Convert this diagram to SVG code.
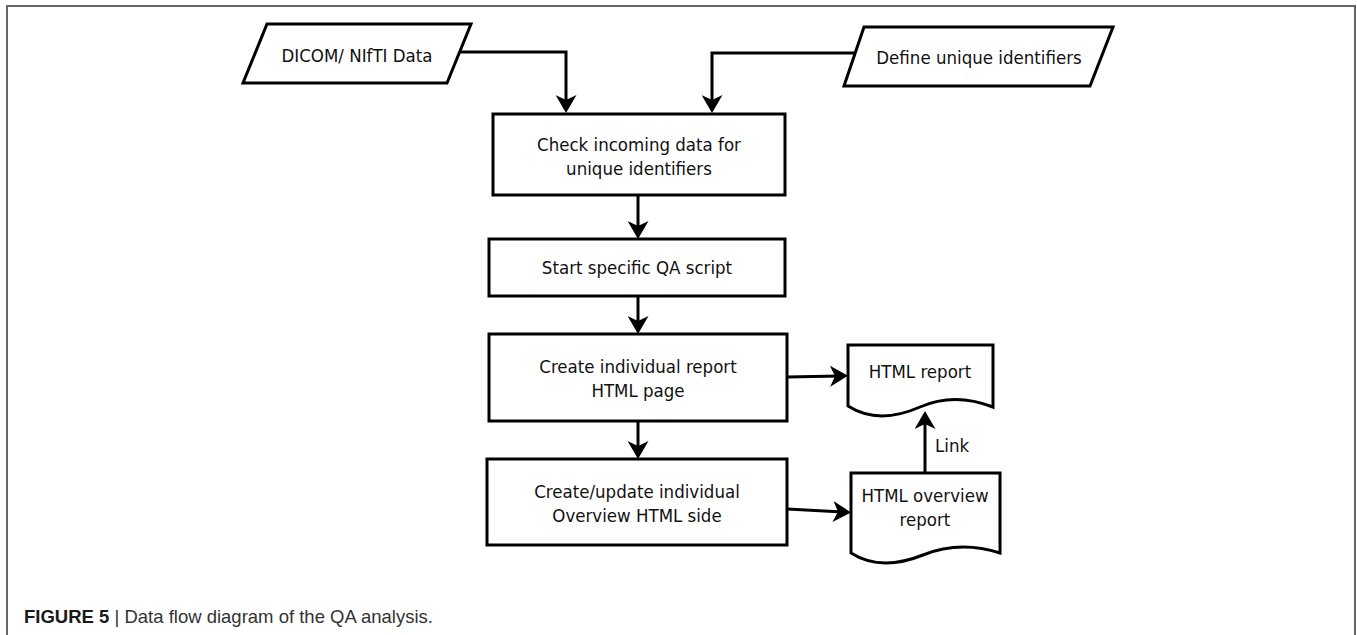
<svg xmlns="http://www.w3.org/2000/svg" width="1357" height="635" viewBox="0 0 1357 635">
<style>
.shape{fill:#fff;stroke:#000;stroke-width:3;stroke-linejoin:miter}
.lbl{font-family:"DejaVu Sans Condensed","DejaVu Sans",sans-serif;font-stretch:condensed;font-size:18.5px;fill:#111;text-anchor:middle}
.conn{fill:none;stroke:#000;stroke-width:3}
.cap{font-family:"Liberation Sans",Arial,sans-serif;font-size:18.5px;fill:#333}
</style>
<defs>
<marker id="arr" viewBox="0 0 18 21" markerWidth="18" markerHeight="21" refX="10" refY="10.5" orient="auto" markerUnits="userSpaceOnUse">
<path d="M0,0 L18,10.5 L0,21 L5,10.5 Z" fill="#000"/>
</marker>
</defs>
<rect width="1357" height="635" fill="#fff"/>
<path d="M7,640 V6 H1355 V640" fill="none" stroke="#666" stroke-width="2"/>

<g id="connectors">
<path class="conn" d="M459,52 H566 V105" marker-end="url(#arr)"/>
<path class="conn" d="M854,53 H712 V105" marker-end="url(#arr)"/>
<path class="conn" d="M638,195 V231" marker-end="url(#arr)"/>
<path class="conn" d="M638,296 V326" marker-end="url(#arr)"/>
<path class="conn" d="M638,421 V451" marker-end="url(#arr)"/>
<path class="conn" d="M787,377 L840,376" marker-end="url(#arr)"/>
<path class="conn" d="M787,509 L843,512" marker-end="url(#arr)"/>
<path class="conn" d="M925,473 V419" marker-end="url(#arr)"/>
<text class="lbl" x="935" y="452" style="text-anchor:start">Link</text>
</g>

<g id="dicom">
<polygon class="shape" points="267,24 471,24 447,83 243,83"/>
<text class="lbl" x="357" y="62">DICOM/ NIfTI Data</text>
</g>
<g id="define">
<polygon class="shape" points="864,27 1113,27 1090,86 844,86"/>
<text class="lbl" x="979" y="64">Define unique identifiers</text>
</g>
<g id="check">
<rect class="shape" x="493" y="114" width="292" height="81"/>
<text class="lbl" x="639" y="151">Check incoming data for</text>
<text class="lbl" x="639" y="175">unique identifiers</text>
</g>
<g id="start">
<rect class="shape" x="489" y="239" width="296" height="57"/>
<text class="lbl" x="637" y="274">Start specific QA script</text>
</g>
<g id="create">
<rect class="shape" x="489" y="334" width="298" height="87"/>
<text class="lbl" x="638" y="373">Create individual report</text>
<text class="lbl" x="638" y="397">HTML page</text>
</g>
<g id="update">
<rect class="shape" x="487" y="459" width="300" height="86"/>
<text class="lbl" x="637" y="498">Create/update individual</text>
<text class="lbl" x="637" y="522">Overview HTML side</text>
</g>
<g id="report">
<path class="shape" d="M848,345 H993 V407 C970,398 945,396 920,407 C895,418 870,420 848,406 Z"/>
<text class="lbl" x="920" y="378">HTML report</text>
</g>
<g id="overview">
<path class="shape" d="M851,473 H1000 V553 C975,545 948,545 923,555 C898,565 873,567 851,553 Z"/>
<text class="lbl" x="925" y="502">HTML overview</text>
<text class="lbl" x="925" y="526">report</text>
</g>

<text class="cap" x="24" y="623"><tspan font-weight="bold" fill="#1a1a1a">FIGURE 5</tspan> | Data flow diagram of the QA analysis.</text>
</svg>
